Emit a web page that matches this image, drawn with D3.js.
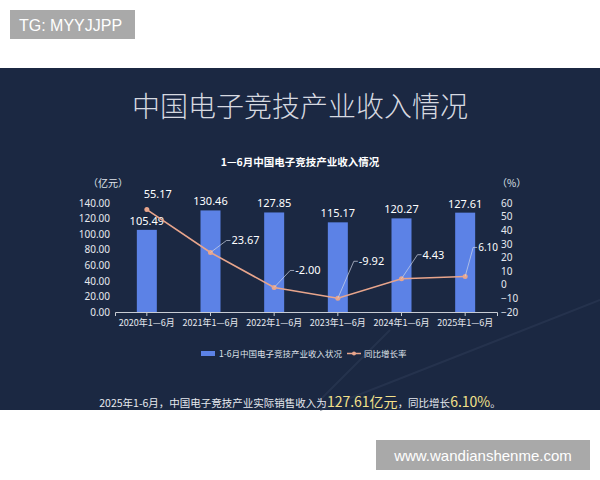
<!DOCTYPE html><html><head><meta charset="utf-8"><script src="https://cdn.jsdelivr.net/npm/d3@7"></script>
<style>body{margin:0;background:#fff}svg{display:block;font-family:"Noto Sans CJK SC","Noto Sans",sans-serif}</style></head><body><svg id="c" width="600" height="480"></svg><script>
const categories=["2020年1—6月","2021年1—6月","2022年1—6月","2023年1—6月","2024年1—6月","2025年1—6月"];
const revenue=[105.49,130.46,127.85,115.17,120.27,127.61];
const growth=[55.17,23.67,-2.00,-9.92,4.43,6.10];
const leftTicks=[0,20,40,60,80,100,120,140];
const rightTicks=[-20,-10,0,10,20,30,40,50,60];
const svg=d3.select("#c");
svg.append("rect").attr("x",0).attr("y",68).attr("width",600).attr("height",342).attr("fill","#1b2842");
svg.append("line").attr("x1",320).attr("y1",410).attr("x2",600).attr("y2",300).attr("stroke","#2c3a55").attr("stroke-width",2).attr("opacity",0.6);
svg.append("line").attr("x1",320).attr("y1",400).attr("x2",390).attr("y2",330).attr("stroke","#2c3a55").attr("stroke-width",2).attr("opacity",0.6);
svg.append("rect").attr("x",10).attr("y",10).attr("width",125).attr("height",29).attr("fill","#a9a9a9");
svg.append("text").attr("x",19).attr("y",31).attr("fill","#fff").attr("font-size",16).attr("font-family","Liberation Sans").text("TG: MYYJJPP");
svg.append("rect").attr("x",376).attr("y",440).attr("width",214).attr("height",30).attr("fill","#a9a9a9");
svg.append("text").attr("x",483).attr("y",461).attr("text-anchor","middle").attr("fill","#fff").attr("font-size",15).attr("font-family","Liberation Sans").text("www.wandianshenme.com");
svg.append("text").attr("x",300).attr("y",117).attr("text-anchor","middle").attr("fill","#d6d9e0").attr("font-size",28).attr("font-weight",300).text("中国电子竞技产业收入情况");
svg.append("text").attr("x",300).attr("y",166).attr("text-anchor","middle").attr("fill","#fff").attr("font-size",10.5).attr("font-weight","bold").text("1—6月中国电子竞技产业收入情况");
const x=d3.scaleBand().domain(categories).range([115,497]);
const yL=d3.scaleLinear().domain([0,140]).range([312,203]);
const yR=d3.scaleLinear().domain([-20,60]).range([312,203]);
svg.append("text").attr("x",88).attr("y",187).attr("fill","#dfe3ea").attr("font-size",10).text("（亿元）");
svg.append("text").attr("x",497).attr("y",187).attr("fill","#dfe3ea").attr("font-size",10).text("（%）");
const gl=svg.append("g").attr("transform","translate(115,0)").call(d3.axisLeft(yL).tickValues(leftTicks).tickFormat(d3.format(".2f")).tickSize(0).tickPadding(5));
gl.select(".domain").remove();
const gr=svg.append("g").attr("transform","translate(497,0)").call(d3.axisRight(yR).tickValues(rightTicks).tickSize(0).tickPadding(4));
gr.select(".domain").remove();
const gx=svg.append("g").attr("transform","translate(0,312)").call(d3.axisBottom(x).tickSize(4).tickPadding(4));
svg.selectAll(".tick text").attr("fill","#e6e9ef").attr("font-size",10).attr("font-family","Noto Sans");
gx.selectAll(".tick text").attr("font-family","Noto Sans CJK SC").attr("font-size",9);
gx.select(".domain").attr("stroke","#c8ccd4");
gx.selectAll(".tick line").attr("stroke","#c8ccd4");
svg.selectAll(".barr").data(revenue).join("rect").attr("x",(d,i)=>x(categories[i])+x.bandwidth()/2-10).attr("width",20).attr("y",d=>yL(d)).attr("height",d=>312-yL(d)).attr("fill","#5c82e6");
svg.selectAll(".bl").data(revenue).join("text").attr("x",(d,i)=>x(categories[i])+x.bandwidth()/2).attr("y",d=>yL(d)-5).attr("text-anchor","middle").attr("fill","#fff").attr("font-size",11).attr("font-family","Noto Sans").text(d=>d.toFixed(2));
const cx=i=>x(categories[i])+x.bandwidth()/2;
svg.append("path").datum(growth).attr("d",d3.line().x((d,i)=>cx(i)).y(d=>yR(d))).attr("fill","none").attr("stroke","#e8a58c").attr("stroke-width",1.6);
svg.selectAll(".pt").data(growth).join("circle").attr("cx",(d,i)=>cx(i)).attr("cy",d=>yR(d)).attr("r",2.5).attr("fill","#e8a58c");
growth.forEach((d,i)=>{
  const px=cx(i),py=yR(d);
  if(i===0){svg.append("text").attr("x",px+11).attr("y",py-12).attr("text-anchor","middle").attr("fill","#fff").attr("font-size",11).attr("font-family","Noto Sans").text(d.toFixed(2));return;}
  const dx=i===5?12:20;
  const lx=px+dx,ly=py-(i===1?12:i===4?24:i===5?29:i===3?37:17);
  svg.append("polyline").attr("points",`${px},${py} ${lx-4},${ly} ${lx},${ly}`).attr("fill","none").attr("stroke","#cfd6e6").attr("stroke-width",0.7);
  svg.append("text").attr("x",lx+1).attr("y",ly+4).attr("fill","#fff").attr("font-size",i===5?10:11).attr("font-family","Noto Sans").text(d.toFixed(2));
});
const lg=svg.append("g");
lg.append("rect").attr("x",201).attr("y",351).attr("width",14).attr("height",5).attr("fill","#5c82e6");
lg.append("text").attr("x",219).attr("y",357).attr("fill","#dfe3ea").attr("font-size",8.5).text("1-6月中国电子竞技产业收入状况");
lg.append("line").attr("x1",347).attr("x2",361).attr("y1",353.5).attr("y2",353.5).attr("stroke","#e8a58c").attr("stroke-width",1.5);
lg.append("circle").attr("cx",354).attr("cy",353.5).attr("r",2).attr("fill","#e8a58c");
lg.append("text").attr("x",364).attr("y",357).attr("fill","#dfe3ea").attr("font-size",8.5).text("同比增长率");
const t=svg.append("text").attr("x",300).attr("y",407).attr("text-anchor","middle").attr("fill","#e6e9ef").attr("font-size",10.5);
t.append("tspan").text("2025年1-6月，中国电子竞技产业实际销售收入为");
t.append("tspan").attr("fill","#f3e08a").attr("font-size",14).text("127.61亿元");
t.append("tspan").text("，同比增长");
t.append("tspan").attr("fill","#f3e08a").attr("font-size",14).text("6.10%");
t.append("tspan").text("。");
</script></body></html>
